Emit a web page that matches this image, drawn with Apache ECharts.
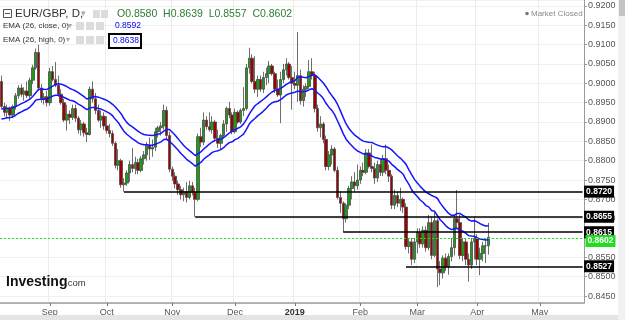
<!DOCTYPE html>
<html><head><meta charset="utf-8">
<script src="https://cdn.jsdelivr.net/npm/echarts@6/dist/echarts.min.js"></script>
<style>html,body{margin:0;padding:0;background:#fff;overflow:hidden}#c{width:625px;height:320px}</style>
</head><body><div id="c"></div>
<script>
// ---- data ----
const firstDay = '2018-08-09';
const lastDay = '2019-05-22';
// daily candles [open, high, low, close], one per trading day from firstDay
const ohlc = [
// Aug 2018
[0.9005,0.9020,0.8935,0.8940],[0.8940,0.8950,0.8915,0.8925],[0.8925,0.8945,0.8912,0.8935],[0.8935,0.8940,0.8903,0.8918],
[0.8918,0.8945,0.8910,0.8940],[0.8940,0.8975,0.8932,0.8968],[0.8968,0.8995,0.8960,0.8988],[0.8988,0.8998,0.8965,0.8972],
[0.8972,0.8990,0.8955,0.8980],[0.8980,0.9005,0.8962,0.8968],[0.8968,0.9015,0.8960,0.9008],[0.9008,0.9048,0.8998,0.9040],
[0.9040,0.9090,0.9035,0.9080],[0.9080,0.9100,0.8980,0.8988],[0.8988,0.8998,0.8950,0.8960],[0.8960,0.8975,0.8945,0.8965],
[0.8965,0.8980,0.8940,0.8950],
// Sep
[0.8950,0.9040,0.8942,0.9030],[0.9030,0.9045,0.9005,0.9010],[0.9010,0.9055,0.8990,0.8995],[0.8995,0.9020,0.8965,0.8972],
[0.8972,0.8985,0.8945,0.8950],[0.8950,0.8960,0.8900,0.8905],[0.8905,0.8945,0.8878,0.8920],[0.8920,0.8930,0.8895,0.8912],
[0.8912,0.8945,0.8905,0.8935],[0.8935,0.8945,0.8900,0.8910],[0.8910,0.8915,0.8870,0.8880],[0.8880,0.8905,0.8865,0.8895],
[0.8895,0.8900,0.8862,0.8872],[0.8872,0.8885,0.8848,0.8868],[0.8868,0.8992,0.8865,0.8985],[0.8985,0.9005,0.8950,0.8960],
[0.8960,0.8975,0.8920,0.8930],[0.8930,0.8945,0.8900,0.8905],[0.8905,0.8930,0.8885,0.8915],[0.8915,0.8925,0.8880,0.8890],
// Oct
[0.8890,0.8915,0.8870,0.8878],[0.8878,0.8895,0.8860,0.8870],[0.8870,0.8878,0.8838,0.8845],[0.8845,0.8850,0.8780,0.8788],
[0.8788,0.8830,0.8775,0.8800],[0.8800,0.8805,0.8730,0.8738],[0.8738,0.8755,0.8720,0.8742],[0.8742,0.8775,0.8735,0.8768],
[0.8768,0.8800,0.8745,0.8790],[0.8790,0.8833,0.8770,0.8780],[0.8780,0.8810,0.8765,0.8795],[0.8795,0.8805,0.8765,0.8775],
[0.8775,0.8812,0.8770,0.8805],[0.8805,0.8825,0.8790,0.8815],[0.8815,0.8848,0.8800,0.8840],[0.8840,0.8860,0.8802,0.8830],
[0.8830,0.8855,0.8810,0.8835],[0.8835,0.8885,0.8825,0.8875],[0.8875,0.8890,0.8860,0.8885],[0.8885,0.8900,0.8865,0.8890],
[0.8890,0.8945,0.8880,0.8930],[0.8930,0.8940,0.8855,0.8865],[0.8865,0.8875,0.8770,0.8778],
// Nov
[0.8778,0.8785,0.8748,0.8760],[0.8760,0.8770,0.8728,0.8740],[0.8740,0.8748,0.8712,0.8725],[0.8725,0.8735,0.8700,0.8712],
[0.8712,0.8730,0.8695,0.8720],[0.8720,0.8745,0.8692,0.8705],[0.8705,0.8748,0.8700,0.8735],[0.8735,0.8745,0.8710,0.8718],
[0.8718,0.8730,0.8655,0.8700],[0.8700,0.8870,0.8695,0.8862],[0.8862,0.8885,0.8835,0.8848],[0.8848,0.8925,0.8840,0.8905],
[0.8905,0.8915,0.8880,0.8888],[0.8888,0.8925,0.8875,0.8880],[0.8880,0.8915,0.8870,0.8900],[0.8900,0.8905,0.8850,0.8858],
[0.8858,0.8880,0.8833,0.8845],[0.8845,0.8870,0.8830,0.8865],[0.8865,0.8905,0.8860,0.8895],[0.8895,0.8940,0.8875,0.8935],
[0.8935,0.8952,0.8910,0.8918],[0.8918,0.8925,0.8868,0.8875],
// Dec
[0.8875,0.8935,0.8870,0.8925],[0.8925,0.8930,0.8895,0.8900],[0.8900,0.8935,0.8895,0.8930],[0.8930,0.8990,0.8915,0.8935],
[0.8935,0.9050,0.8930,0.9040],[0.9040,0.9092,0.9025,0.9065],[0.9065,0.9075,0.9000,0.9005],[0.9005,0.9070,0.8975,0.8985],
[0.8985,0.9020,0.8965,0.9010],[0.9010,0.9020,0.8978,0.8985],[0.8985,0.9030,0.8975,0.9015],[0.9015,0.9040,0.8995,0.9025],
[0.9025,0.9058,0.9000,0.9045],[0.9045,0.9050,0.9020,0.9025],[0.9025,0.9030,0.8975,0.8985],[0.8985,0.9010,0.8965,0.8970],
[0.8970,0.9030,0.8897,0.9010],[0.9010,0.9050,0.9000,0.9035],[0.9035,0.9065,0.9020,0.9050],[0.9050,0.9055,0.9010,0.9015],
[0.9015,0.9045,0.8932,0.9000],
// Jan 2019
[0.9000,0.9030,0.8985,0.8995],[0.8995,0.9133,0.8952,0.9020],[0.9020,0.9035,0.8945,0.8955],[0.8955,0.8995,0.8940,0.8985],
[0.8985,0.9000,0.8965,0.8992],[0.8992,0.9060,0.8985,0.9030],[0.9030,0.9065,0.9010,0.9020],[0.9020,0.9030,0.8925,0.8935],
[0.8935,0.8945,0.8875,0.8885],[0.8885,0.8915,0.8860,0.8895],[0.8895,0.8900,0.8845,0.8855],[0.8855,0.8865,0.8775,0.8785],
[0.8785,0.8825,0.8775,0.8815],[0.8815,0.8840,0.8790,0.8830],[0.8830,0.8835,0.8770,0.8775],[0.8775,0.8785,0.8700,0.8705],
[0.8705,0.8720,0.8665,0.8690],[0.8690,0.8695,0.8615,0.8650],[0.8650,0.8690,0.8640,0.8685],[0.8685,0.8735,0.8675,0.8728],
[0.8728,0.8760,0.8700,0.8745],[0.8745,0.8770,0.8720,0.8735],[0.8735,0.8790,0.8725,0.8750],
// Feb
[0.8750,0.8785,0.8740,0.8775],[0.8775,0.8795,0.8760,0.8770],[0.8770,0.8830,0.8765,0.8820],[0.8820,0.8830,0.8780,0.8785],
[0.8785,0.8842,0.8770,0.8780],[0.8780,0.8795,0.8740,0.8755],[0.8755,0.8800,0.8745,0.8790],[0.8790,0.8805,0.8760,0.8770],
[0.8770,0.8815,0.8760,0.8805],[0.8805,0.8842,0.8765,0.8775],[0.8775,0.8790,0.8745,0.8760],[0.8760,0.8765,0.8675,0.8685],
[0.8685,0.8725,0.8675,0.8710],[0.8710,0.8720,0.8680,0.8690],[0.8690,0.8730,0.8670,0.8700],[0.8700,0.8705,0.8665,0.8680],
[0.8680,0.8690,0.8570,0.8578],[0.8578,0.8600,0.8560,0.8590],[0.8590,0.8600,0.8530,0.8545],[0.8545,0.8600,0.8535,0.8590],
// Mar
[0.8590,0.8625,0.8560,0.8615],[0.8615,0.8625,0.8575,0.8585],[0.8585,0.8630,0.8575,0.8620],[0.8620,0.8630,0.8565,0.8575],
[0.8575,0.8660,0.8568,0.8640],[0.8640,0.8655,0.8545,0.8555],[0.8555,0.8670,0.8550,0.8645],[0.8645,0.8650,0.8473,0.8520],
[0.8520,0.8540,0.8478,0.8510],[0.8510,0.8555,0.8495,0.8548],[0.8548,0.8560,0.8515,0.8525],[0.8525,0.8560,0.8505,0.8552],
[0.8552,0.8600,0.8540,0.8575],[0.8575,0.8660,0.8555,0.8650],[0.8650,0.8724,0.8625,0.8640],[0.8640,0.8660,0.8545,0.8555],
[0.8555,0.8600,0.8540,0.8590],[0.8590,0.8598,0.8530,0.8545],[0.8545,0.8560,0.8487,0.8530],[0.8530,0.8600,0.8520,0.8590],
[0.8590,0.8655,0.8545,0.8600],
// Apr
[0.8600,0.8610,0.8530,0.8545],[0.8545,0.8575,0.8504,0.8560],[0.8560,0.8590,0.8540,0.8580],[0.8580,0.8600,0.8535,0.8580],
[0.8580,0.8639,0.8557,0.8602]
];
// EMA(26) values just before the first visible day
const emaPeriod = 26;
const emaCloseStart = 0.8905;
const emaHighStart = 0.8927;
// horizontal support / resistance levels and the day each one starts
const levelValues = [0.8720, 0.8655, 0.8615, 0.8527];
const levelStarts = ['2018-10-09', '2018-11-13', '2019-01-24', '2019-02-25'];
const lastPrice = 0.8602;
// x-axis month ticks
const tickDates = ['2018-09-03','2018-10-01','2018-11-01','2018-12-03','2019-01-01','2019-02-01','2019-03-01','2019-04-01','2019-05-01'];
const tickLabels = ['Sep','Oct','Nov','Dec','2019','Feb','Mar','Apr','May'];
// y-axis range
const yMin = 0.8432, yMax = 0.92155;

// ---- build ----
function weekdays(a, b) {
  const out = [];
  const d = new Date(a + 'T00:00:00Z'), e = new Date(b + 'T00:00:00Z');
  while (d <= e) {
    const w = d.getUTCDay();
    if (w !== 0 && w !== 6) out.push(d.toISOString().slice(0, 10));
    d.setUTCDate(d.getUTCDate() + 1);
  }
  return out;
}
const categories = weekdays(firstDay, lastDay);
const candleData = ohlc.map(r => [r[0], r[3], r[2], r[1]]);
function ema(vals, start, n) {
  const k = 2 / (n + 1); let e = start;
  return vals.map(v => { e = e + k * (v - e); return +e.toFixed(5); });
}
const emaClose = ema(ohlc.map(r => r[3]), emaCloseStart, emaPeriod);
const emaHigh = ema(ohlc.map(r => r[1]), emaHighStart, emaPeriod);
const tickMap = {}; tickDates.forEach((d, i) => tickMap[d] = tickLabels[i]);
const isTick = (idx, val) => tickMap[val] !== undefined;
const lastCat = categories[categories.length - 1];
const FONT = 'Liberation Sans, Arial, sans-serif';

const levelLabel = (v, bg, dy) => ({
  show: true, position: 'end', distance: 1.5,
  formatter: () => v.toFixed(4),
  backgroundColor: bg, color: '#fff', fontSize: 8.5, fontFamily: FONT, fontWeight: 'bold',
  padding: [2, 2, 1, 2], offset: [0, dy || 0]
});
const markData = levelValues.map((v, i) => [
  { coord: [levelStarts[i], v], label: levelLabel(v, '#000') },
  { coord: [lastCat, v], label: levelLabel(v, '#000') }
]);
markData.push({
  yAxis: lastPrice,
  lineStyle: { color: '#22dd22', type: [2, 2], width: 1 },
  label: levelLabel(lastPrice, '#22dd22', 3)
});

const chart = echarts.init(document.getElementById('c'), null, { renderer: 'canvas' });
chart.setOption({
  animation: false,
  backgroundColor: '#fff',
  textStyle: { fontFamily: FONT },
  grid: { left: 0, right: 41, top: 0, bottom: 17, containLabel: false },
  xAxis: {
    type: 'category', data: categories, boundaryGap: true,
    axisLine: { lineStyle: { color: '#9c9c9c', width: 1.5 } },
    axisTick: { show: true, interval: isTick, alignWithLabel: true, length: 3, lineStyle: { color: '#777' } },
    axisLabel: {
      interval: isTick, fontSize: 9, color: '#555', margin: 5, fontFamily: FONT,
      formatter: v => tickMap[v] === '2019' ? '{b|2019}' : (tickMap[v] || ''),
      rich: { b: { fontWeight: 'bold', color: '#333', fontSize: 9, fontFamily: FONT } }
    },
    splitLine: { show: true, interval: isTick, lineStyle: { color: '#ececec' } }
  },
  yAxis: {
    type: 'value', position: 'right', min: yMin, max: yMax, splitNumber: 16, scale: true,
    axisLine: { show: true, lineStyle: { color: '#999' } },
    axisTick: { show: true, length: 3, lineStyle: { color: '#999' } },
    axisLabel: { fontSize: 9, color: '#555', margin: 4, fontFamily: FONT,
      formatter: v => v.toFixed(4), showMinLabel: false, showMaxLabel: false },
    splitLine: { show: true, lineStyle: { color: '#f0f0f0' } }
  },
  series: [
    {
      type: 'candlestick', data: candleData, barMaxWidth: 3, barWidth: 3,
      itemStyle: { color: '#1a9e1a', color0: '#a00000', borderColor: '#4a4a4a', borderColor0: '#4a4a4a', borderWidth: 0.8 },
      markLine: { silent: true, symbol: ['none', 'none'], animation: false,
        lineStyle: { color: '#000', width: 1.6, type: 'solid' }, data: markData },
      z: 2
    },
    { type: 'line', data: emaClose, symbol: 'none', lineStyle: { color: '#1414ff', width: 1.5 }, z: 3 },
    { type: 'line', data: emaHigh, symbol: 'none', lineStyle: { color: '#1414ff', width: 1.5 }, z: 3 }
  ],
  graphic: [
    { type: 'rect', shape: { x: 618, y: 0, width: 7, height: 320 }, style: { fill: '#f1f1f1' }, z: 50 },
    { type: 'rect', shape: { x: 619, y: 0, width: 6, height: 16 }, style: { fill: '#c4c4c4' }, z: 51 },
    { type: 'rect', shape: { x: 0, y: 315, width: 618, height: 5 }, style: { fill: '#e4e4e4' }, z: 50 },
    // header line 1
    { type: 'rect', shape: { x: 3.5, y: 9.5, width: 8, height: 8 }, style: { fill: 'none', stroke: '#555', lineWidth: 1 }, z: 60 },
    { type: 'line', shape: { x1: 5, y1: 13.5, x2: 10, y2: 13.5 }, style: { stroke: '#555', lineWidth: 1 }, z: 60 },
    { type: 'text', x: 15, y: 14, style: { text: 'EUR/GBP, D,', font: '11.5px ' + FONT, fill: '#333', textVerticalAlign: 'middle' }, z: 60 },
    { type: 'text', x: 81, y: 14, style: { text: '▾', font: '9px ' + FONT, fill: '#aaa', textVerticalAlign: 'middle' }, z: 60 },
    { type: 'rect', shape: { x: 93, y: 10, width: 7, height: 8 }, style: { fill: '#dcdcdc' }, z: 60 },
    { type: 'rect', shape: { x: 101, y: 10, width: 7, height: 8 }, style: { fill: '#dcdcdc' }, z: 60 },
    { type: 'text', x: 117, y: 14, style: { text: 'O0.8580  H0.8639  L0.8557  C0.8602', font: '10.5px ' + FONT, fill: '#2e7d32', textVerticalAlign: 'middle' }, z: 60 },
    // header line 2
    { type: 'text', x: 3, y: 26, style: { text: 'EMA (26, close, 0)', font: '8px ' + FONT, fill: '#333', textVerticalAlign: 'middle' }, z: 60 },
    { type: 'text', x: 68, y: 26, style: { text: '▾', font: '8px ' + FONT, fill: '#aaa', textVerticalAlign: 'middle' }, z: 60 },
    { type: 'rect', shape: { x: 76, y: 22, width: 8, height: 8 }, style: { fill: '#dcdcdc' }, z: 60 },
    { type: 'rect', shape: { x: 86, y: 22, width: 8, height: 8 }, style: { fill: '#dcdcdc' }, z: 60 },
    { type: 'rect', shape: { x: 96, y: 22, width: 8, height: 8 }, style: { fill: '#dcdcdc' }, z: 60 },
    { type: 'text', x: 115, y: 26, style: { text: '0.8592', font: '8.5px ' + FONT, fill: '#0000ee', textVerticalAlign: 'middle' }, z: 60 },
    // header line 3
    { type: 'text', x: 3, y: 40, style: { text: 'EMA (26, high, 0)', font: '8px ' + FONT, fill: '#333', textVerticalAlign: 'middle' }, z: 60 },
    { type: 'text', x: 66, y: 40, style: { text: '▾', font: '8px ' + FONT, fill: '#aaa', textVerticalAlign: 'middle' }, z: 60 },
    { type: 'rect', shape: { x: 76, y: 36, width: 8, height: 8 }, style: { fill: '#dcdcdc' }, z: 60 },
    { type: 'rect', shape: { x: 86, y: 36, width: 8, height: 8 }, style: { fill: '#dcdcdc' }, z: 60 },
    { type: 'rect', shape: { x: 96, y: 36, width: 8, height: 8 }, style: { fill: '#dcdcdc' }, z: 60 },
    { type: 'rect', shape: { x: 109, y: 34, width: 32, height: 14 }, style: { fill: '#fff', stroke: '#000', lineWidth: 2 }, z: 60 },
    { type: 'text', x: 113, y: 41, style: { text: '0.8638', font: '8.5px ' + FONT, fill: '#0000ee', textVerticalAlign: 'middle' }, z: 61 },
    // market status
    { type: 'circle', shape: { cx: 527, cy: 13.5, r: 1.8 }, style: { fill: '#777' }, z: 60 },
    { type: 'text', x: 531, y: 13.5, style: { text: 'Market Closed', font: '8px ' + FONT, fill: '#888', textVerticalAlign: 'middle' }, z: 60 },
    // logo
    { type: 'text', x: 6, y: 289, style: { text: 'Investing', font: 'bold 14px ' + FONT, fill: '#111', textVerticalAlign: 'bottom' }, z: 60 },
    { type: 'text', x: 65, y: 288, style: { text: '.com', font: '9.5px ' + FONT, fill: '#333', textVerticalAlign: 'bottom' }, z: 60 }
  ]
});
</script>
</body></html>
